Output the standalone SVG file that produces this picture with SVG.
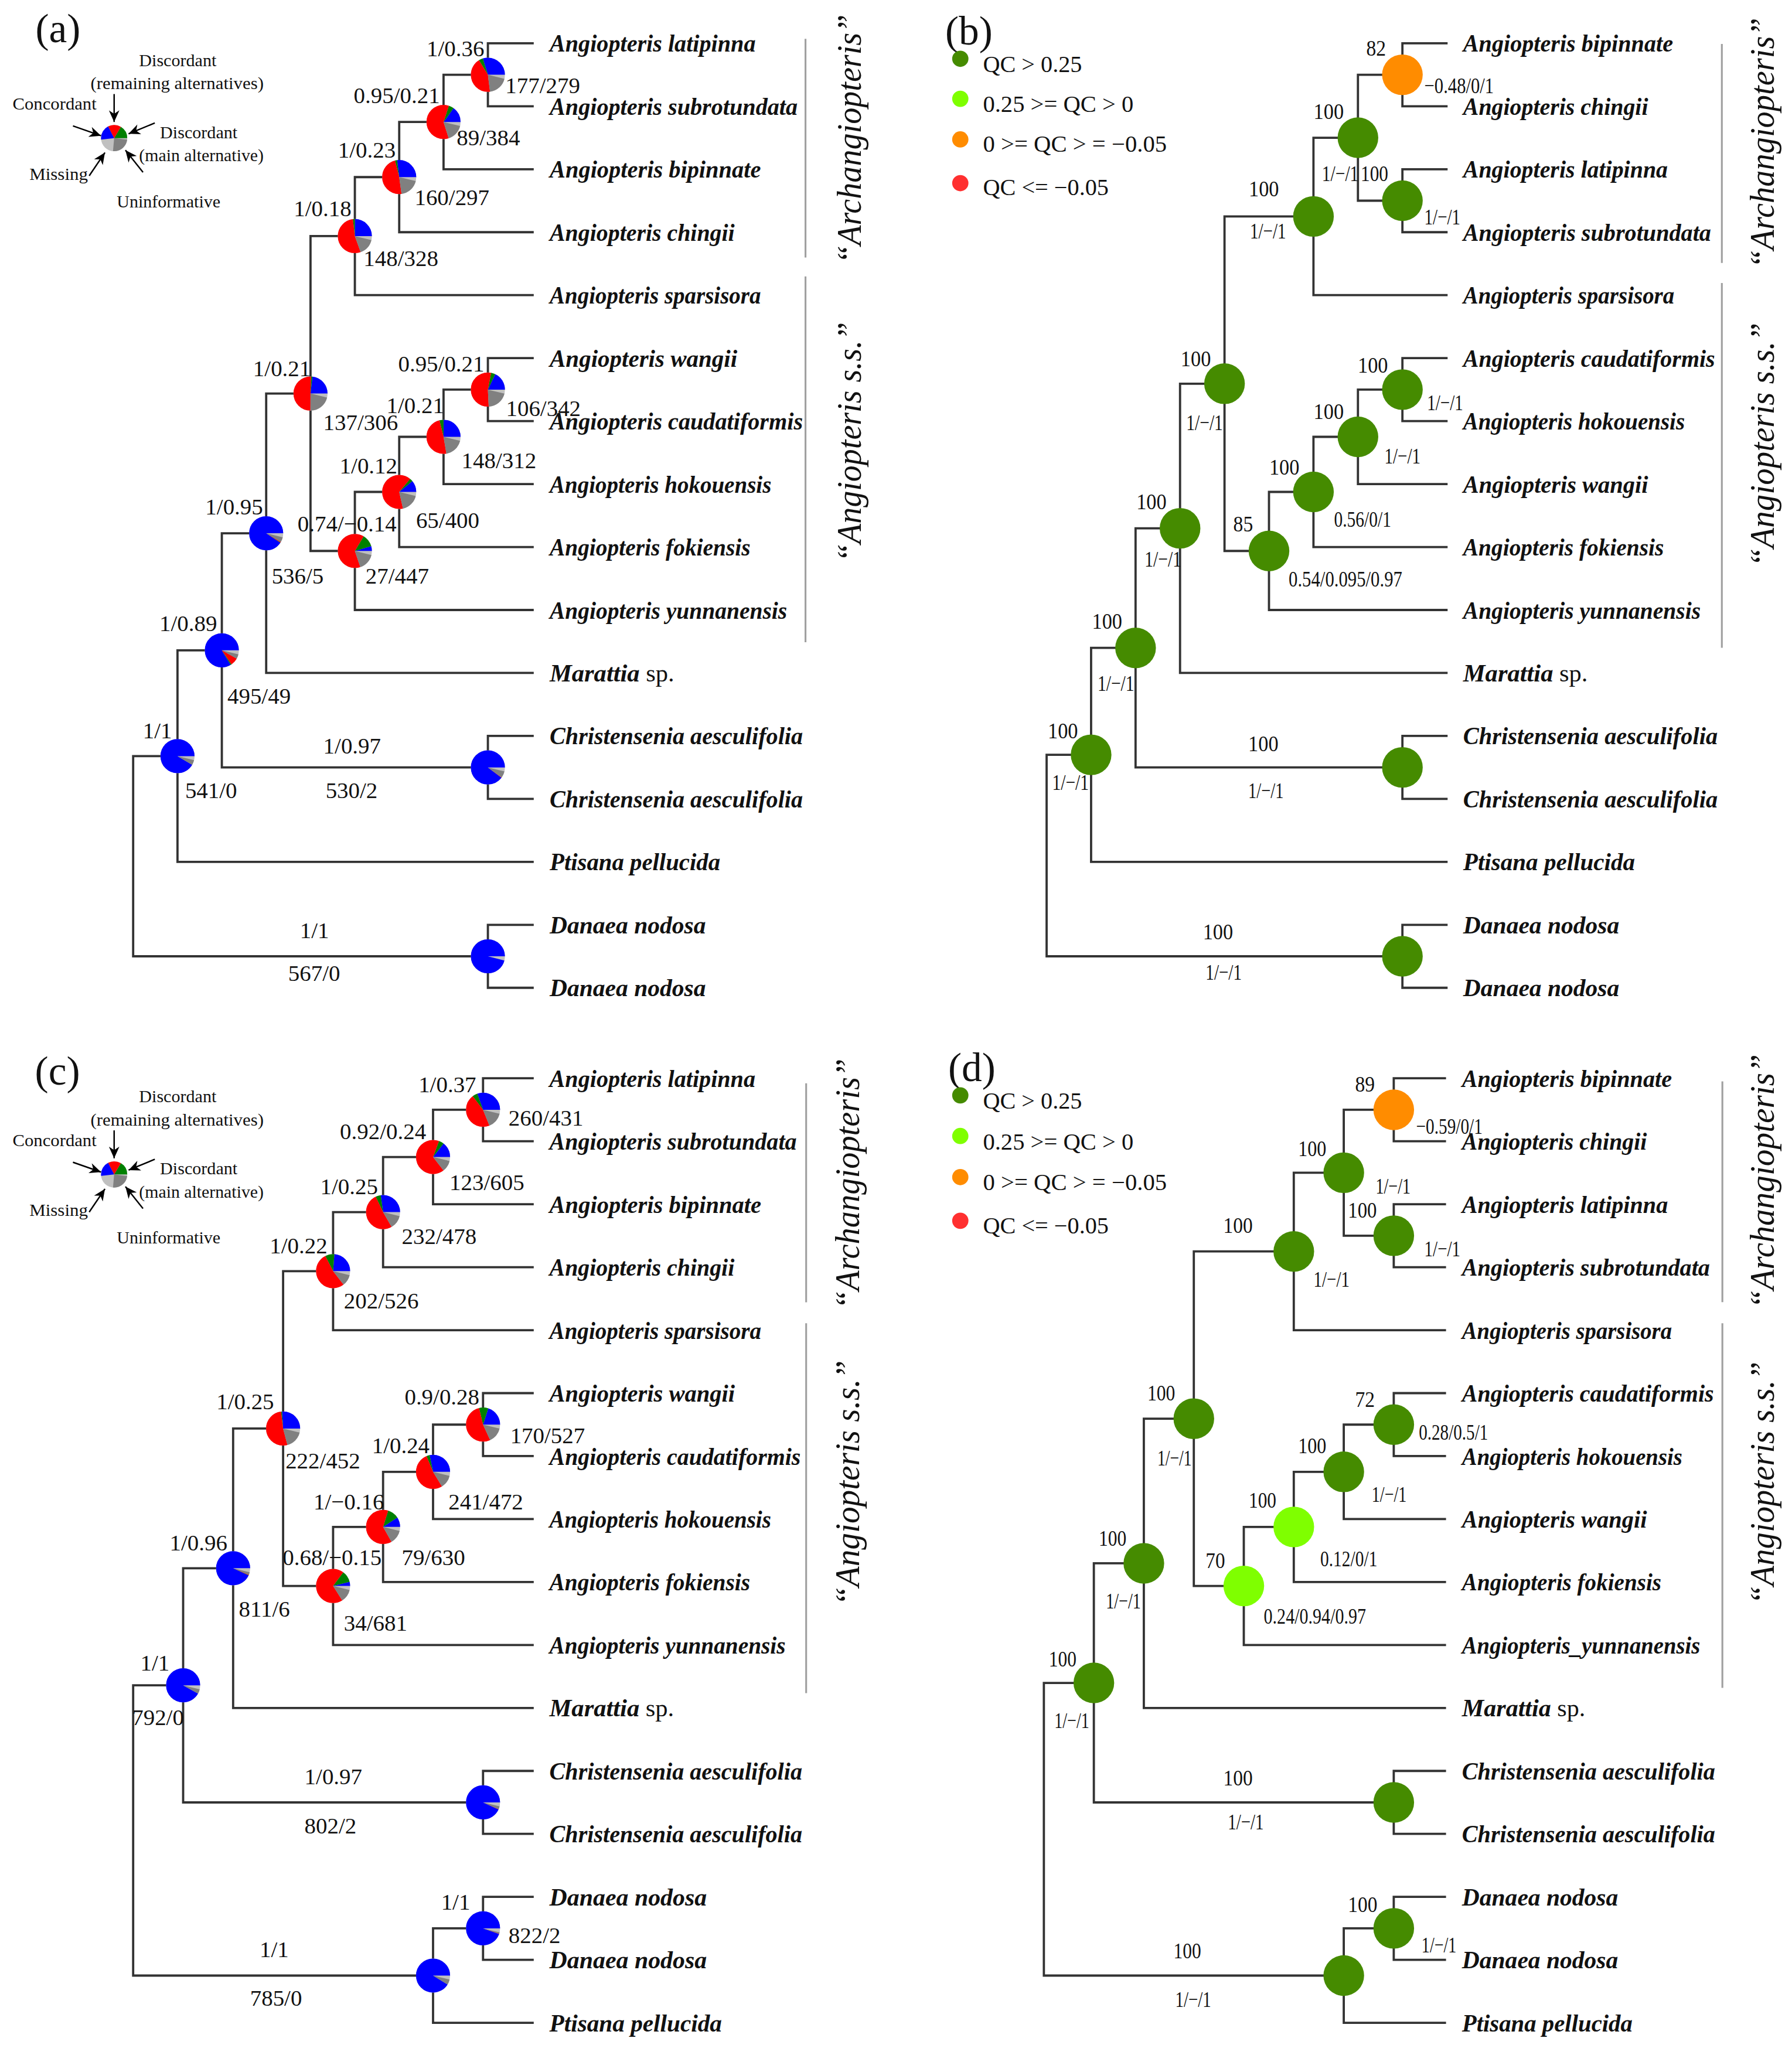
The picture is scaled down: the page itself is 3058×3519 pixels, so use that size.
<svg xmlns="http://www.w3.org/2000/svg" width="3058" height="3519" viewBox="0 0 3058 3519">
<defs>
<style>
text{font-family:"Liberation Serif","Times New Roman",serif;fill:#111}
.t{font-size:19px;font-weight:bold;font-style:italic}
.t .r{font-weight:normal;font-style:normal}
.n{font-size:17.4px}
.q{font-size:17px}
.L{font-size:13.5px}
.Q{font-size:17.5px}
.P{font-size:31px}
.C{font-size:26px;font-style:italic}
.br{fill:none;stroke:#333;stroke-width:1.7;stroke-linecap:square}
.bar{stroke:#a0a0a0;stroke-width:1.4}
.ar{stroke:#000;stroke-width:1.1;marker-end:url(#ah)}
.pb,.pg,.pr,.pu{fill:none}
.pb{stroke:#0000ff}.pg{stroke:#008000}.pr{stroke:#ff0000}.pu{stroke:#808080}
.pm{fill:#c0c0c0}
.qg{fill:#458b00}.ql{fill:#7fff00}.qo{fill:#ff8c00}.qr{fill:#ff3030}
</style>
<marker id="ah" viewBox="0 0 10 9" refX="10" refY="4.5" markerWidth="9" markerHeight="8" markerUnits="userSpaceOnUse" orient="auto"><path d="M0 0L10 4.5L0 9L3 4.5z" fill="#000"/></marker>
</defs>
<rect width="3058" height="3519" fill="#fff"/>
<g transform="scale(2.2387)">

<!-- ================= PANEL A ================= -->
<g id="panel-a">
<text class="P" x="27" y="32.3">(a)</text>
<g id="a-legend">
<text class="L" x="135.5" y="50.3" text-anchor="middle" textLength="59" lengthAdjust="spacingAndGlyphs">Discordant</text>
<text class="L" x="69" y="68" textLength="132" lengthAdjust="spacingAndGlyphs">(remaining alternatives)</text>
<text class="L" x="9.6" y="83.5" textLength="64" lengthAdjust="spacingAndGlyphs">Concordant</text>
<text class="L" x="122" y="105.3" textLength="59" lengthAdjust="spacingAndGlyphs">Discordant</text>
<text class="L" x="106" y="123" textLength="95" lengthAdjust="spacingAndGlyphs">(main alternative)</text>
<text class="L" x="22.4" y="137" textLength="44.6" lengthAdjust="spacingAndGlyphs">Missing</text>
<text class="L" x="89" y="158" textLength="79" lengthAdjust="spacingAndGlyphs">Uninformative</text>
<g transform="translate(87 105.3) scale(1 -1)" stroke-width="10">
<circle r="10" class="pm"/>
<circle r="5" pathLength="100" class="pg" stroke-dasharray="16.7 100"/>
<circle r="5" pathLength="100" class="pr" stroke-dasharray="16.6 100" stroke-dashoffset="-16.7"/>
<circle r="5" pathLength="100" class="pb" stroke-dasharray="19.5 100" stroke-dashoffset="-33.3"/>
<circle r="5" pathLength="100" class="pu" stroke-dasharray="25 100" stroke-dashoffset="-75"/>
</g>
<line class="ar" x1="87" y1="71.7" x2="87" y2="93"/>
<line class="ar" x1="55.6" y1="96" x2="77" y2="103.5"/>
<line class="ar" x1="118" y1="93.75" x2="98" y2="102"/>
<line class="ar" x1="68" y1="134" x2="80" y2="116.3"/>
<line class="ar" x1="109" y1="131.3" x2="95.6" y2="114.5"/>
</g>

<g id="a-connectors">
<path class="br" d="M135.3 576.4H101.5V729H371.9 M169.1 495.75H135.3V657H406 M202.9 406.5H169.1V585H371.9 M236.7 300H202.9V513H406 M270.5 180H236.7V420H270.5 M304.3 135H270.5V225H406 M338.1 93H304.3V177H406 M371.9 57H338.1V129H406 M406 33H371.9V81H406 M304.3 375H270.5V465H406 M338.1 333H304.3V417H406 M371.9 297H338.1V369H406 M406 273H371.9V321H406 M406 561H371.9V609H406 M406 705H371.9V753H406"/>
</g>

<g id="a-n1"><g transform="translate(371.9 57) scale(1 -1)" stroke-width="13"><circle r="13" class="pm"/><circle r="6.5" pathLength="100" class="pb" stroke-dasharray="30.5 100"/><circle r="6.5" pathLength="100" class="pg" stroke-dasharray="4 100" stroke-dashoffset="-30.5"/><circle r="6.5" pathLength="100" class="pr" stroke-dasharray="44.1 100" stroke-dashoffset="-34.5"/><circle r="6.5" pathLength="100" class="pu" stroke-dasharray="19.4 100" stroke-dashoffset="-78.6"/></g>
<text class="n" x="325.2" y="43">1/0.36</text><text class="n" x="385.2" y="71">177/279</text></g>
<g id="a-n2"><g transform="translate(338.1 93) scale(1 -1)" stroke-width="13"><circle r="13" class="pm"/><circle r="6.5" pathLength="100" class="pb" stroke-dasharray="15.3 100"/><circle r="6.5" pathLength="100" class="pg" stroke-dasharray="5 100" stroke-dashoffset="-15.3"/><circle r="6.5" pathLength="100" class="pr" stroke-dasharray="61.2 100" stroke-dashoffset="-20.3"/><circle r="6.5" pathLength="100" class="pu" stroke-dasharray="16.5 100" stroke-dashoffset="-81.5"/></g>
<text class="n" x="269.6" y="78.7">0.95/0.21</text><text class="n" x="348.1" y="110.8">89/384</text></g>
<g id="a-n3"><g transform="translate(304.3 135) scale(1 -1)" stroke-width="13"><circle r="13" class="pm"/><circle r="6.5" pathLength="100" class="pb" stroke-dasharray="27.6 100"/><circle r="6.5" pathLength="100" class="pg" stroke-dasharray="2 100" stroke-dashoffset="-27.6"/><circle r="6.5" pathLength="100" class="pr" stroke-dasharray="49.2 100" stroke-dashoffset="-29.6"/><circle r="6.5" pathLength="100" class="pu" stroke-dasharray="19.2 100" stroke-dashoffset="-78.8"/></g>
<text class="n" x="257.6" y="120">1/0.23</text><text class="n" x="316" y="156.5">160/297</text></g>
<g id="a-n4"><g transform="translate(270.5 180) scale(1 -1)" stroke-width="13"><circle r="13" class="pm"/><circle r="6.5" pathLength="100" class="pb" stroke-dasharray="25.5 100"/><circle r="6.5" pathLength="100" class="pg" stroke-dasharray="2 100" stroke-dashoffset="-25.5"/><circle r="6.5" pathLength="100" class="pr" stroke-dasharray="54.6 100" stroke-dashoffset="-27.5"/><circle r="6.5" pathLength="100" class="pu" stroke-dasharray="15.9 100" stroke-dashoffset="-82.1"/></g>
<text class="n" x="223.9" y="165">1/0.18</text><text class="n" x="277.1" y="203">148/328</text></g>
<g id="a-n5"><g transform="translate(371.9 297) scale(1 -1)" stroke-width="13"><circle r="13" class="pm"/><circle r="6.5" pathLength="100" class="pb" stroke-dasharray="18.3 100"/><circle r="6.5" pathLength="100" class="pg" stroke-dasharray="4 100" stroke-dashoffset="-18.3"/><circle r="6.5" pathLength="100" class="pr" stroke-dasharray="55 100" stroke-dashoffset="-22.3"/><circle r="6.5" pathLength="100" class="pu" stroke-dasharray="20.7 100" stroke-dashoffset="-77.3"/></g>
<text class="n" x="303.5" y="283.2">0.95/0.21</text><text class="n" x="385.7" y="317">106/342</text></g>
<g id="a-n6"><g transform="translate(338.1 333) scale(1 -1)" stroke-width="13"><circle r="13" class="pm"/><circle r="6.5" pathLength="100" class="pb" stroke-dasharray="25.5 100"/><circle r="6.5" pathLength="100" class="pg" stroke-dasharray="4 100" stroke-dashoffset="-25.5"/><circle r="6.5" pathLength="100" class="pr" stroke-dasharray="49.8 100" stroke-dashoffset="-29.5"/><circle r="6.5" pathLength="100" class="pu" stroke-dasharray="18.7 100" stroke-dashoffset="-79.3"/></g>
<text class="n" x="294.6" y="315">1/0.21</text><text class="n" x="351.8" y="356.7">148/312</text></g>
<g id="a-n7"><g transform="translate(304.3 375) scale(1 -1)" stroke-width="13"><circle r="13" class="pm"/><circle r="6.5" pathLength="100" class="pb" stroke-dasharray="11.2 100"/><circle r="6.5" pathLength="100" class="pg" stroke-dasharray="3 100" stroke-dashoffset="-11.2"/><circle r="6.5" pathLength="100" class="pr" stroke-dasharray="66 100" stroke-dashoffset="-14.2"/><circle r="6.5" pathLength="100" class="pu" stroke-dasharray="17.8 100" stroke-dashoffset="-80.2"/></g>
<text class="n" x="258.9" y="361">1/0.12</text><text class="n" x="317.1" y="402.5">65/400</text></g>
<g id="a-n8"><g transform="translate(270.5 420) scale(1 -1)" stroke-width="13"><circle r="13" class="pm"/><circle r="6.5" pathLength="100" class="pb" stroke-dasharray="4.7 100"/><circle r="6.5" pathLength="100" class="pg" stroke-dasharray="12 100" stroke-dashoffset="-4.7"/><circle r="6.5" pathLength="100" class="pr" stroke-dasharray="65.1 100" stroke-dashoffset="-16.7"/><circle r="6.5" pathLength="100" class="pu" stroke-dasharray="16.2 100" stroke-dashoffset="-81.8"/></g>
<text class="n" x="226.8" y="405">0.74/−0.14</text><text class="n" x="278.6" y="444.9">27/447</text></g>
<g id="a-n9"><g transform="translate(236.7 300) scale(1 -1)" stroke-width="13"><circle r="13" class="pm"/><circle r="6.5" pathLength="100" class="pb" stroke-dasharray="23.6 100"/><circle r="6.5" pathLength="100" class="pg" stroke-dasharray="1.5 100" stroke-dashoffset="-23.6"/><circle r="6.5" pathLength="100" class="pr" stroke-dasharray="51.3 100" stroke-dashoffset="-25.1"/><circle r="6.5" pathLength="100" class="pu" stroke-dasharray="21.6 100" stroke-dashoffset="-76.4"/></g>
<text class="n" x="192.9" y="286.6">1/0.21</text><text class="n" x="246.4" y="328">137/306</text></g>
<g id="a-n10"><g transform="translate(202.9 406.5) scale(1 -1)" stroke-width="13"><circle r="13" class="pm"/><circle r="6.5" pathLength="100" class="pb" stroke-dasharray="92.4 100"/><circle r="6.5" pathLength="100" class="pg" stroke-dasharray="0.3 100" stroke-dashoffset="-92.4"/><circle r="6.5" pathLength="100" class="pr" stroke-dasharray="0.6 100" stroke-dashoffset="-92.7"/><circle r="6.5" pathLength="100" class="pu" stroke-dasharray="4.7 100" stroke-dashoffset="-93.3"/></g>
<text class="n" x="156.5" y="392.3">1/0.95</text><text class="n" x="207.1" y="444.9">536/5</text></g>
<g id="a-n11"><g transform="translate(169.1 495.75) scale(1 -1)" stroke-width="13"><circle r="13" class="pm"/><circle r="6.5" pathLength="100" class="pb" stroke-dasharray="85.3 100"/><circle r="6.5" pathLength="100" class="pg" stroke-dasharray="1 100" stroke-dashoffset="-85.3"/><circle r="6.5" pathLength="100" class="pr" stroke-dasharray="7.4 100" stroke-dashoffset="-86.3"/><circle r="6.5" pathLength="100" class="pu" stroke-dasharray="4.3 100" stroke-dashoffset="-93.7"/></g>
<text class="n" x="121.5" y="481">1/0.89</text><text class="n" x="173.3" y="536.6">495/49</text></g>
<g id="a-n12"><g transform="translate(135.3 576.4) scale(1 -1)" stroke-width="13"><circle r="13" class="pm"/><circle r="6.5" pathLength="100" class="pb" stroke-dasharray="93.3 100"/><circle r="6.5" pathLength="100" class="pu" stroke-dasharray="4.7 100" stroke-dashoffset="-93.3"/></g>
<text class="n" x="108.9" y="562.8">1/1</text><text class="n" x="141.1" y="608.6">541/0</text></g>
<g id="a-n13"><g transform="translate(371.9 585) scale(1 -1)" stroke-width="13"><circle r="13" class="pm"/><circle r="6.5" pathLength="100" class="pb" stroke-dasharray="91.4 100"/><circle r="6.5" pathLength="100" class="pr" stroke-dasharray="0.3 100" stroke-dashoffset="-91.4"/><circle r="6.5" pathLength="100" class="pu" stroke-dasharray="6.3 100" stroke-dashoffset="-91.7"/></g>
<text class="n" x="246.4" y="574.3">1/0.97</text><text class="n" x="248.2" y="608.6">530/2</text></g>
<g id="a-n14"><g transform="translate(371.9 729) scale(1 -1)" stroke-width="13"><circle r="13" class="pm"/><circle r="6.5" pathLength="100" class="pb" stroke-dasharray="97.8 100"/></g>
<text class="n" x="228.6" y="715">1/1</text><text class="n" x="219.7" y="747.7">567/0</text></g>

<g id="a-tips">
<text id="a-t1" class="t" x="419" y="39.5" textLength="157" lengthAdjust="spacingAndGlyphs">Angiopteris latipinna</text>
<text id="a-t2" class="t" x="419" y="87.5" textLength="189" lengthAdjust="spacingAndGlyphs">Angiopteris subrotundata</text>
<text id="a-t3" class="t" x="419" y="135.5" textLength="161" lengthAdjust="spacingAndGlyphs">Angiopteris bipinnate</text>
<text id="a-t4" class="t" x="419" y="183.5" textLength="141" lengthAdjust="spacingAndGlyphs">Angiopteris chingii</text>
<text id="a-t5" class="t" x="419" y="231.5" textLength="161" lengthAdjust="spacingAndGlyphs">Angiopteris sparsisora</text>
<text id="a-t6" class="t" x="419" y="279.5" textLength="143" lengthAdjust="spacingAndGlyphs">Angiopteris wangii</text>
<text id="a-t7" class="t" x="419" y="327.5" textLength="193" lengthAdjust="spacingAndGlyphs">Angiopteris caudatiformis</text>
<text id="a-t8" class="t" x="419" y="375.5" textLength="169" lengthAdjust="spacingAndGlyphs">Angiopteris hokouensis</text>
<text id="a-t9" class="t" x="419" y="423.5" textLength="153" lengthAdjust="spacingAndGlyphs">Angiopteris fokiensis</text>
<text id="a-t10" class="t" x="419" y="471.5" textLength="181" lengthAdjust="spacingAndGlyphs">Angiopteris yunnanensis</text>
<text id="a-t11" class="t" x="419" y="519.5" textLength="95" lengthAdjust="spacingAndGlyphs">Marattia<tspan class="r"> sp.</tspan></text>
<text id="a-t12" class="t" x="419" y="567.5" textLength="193" lengthAdjust="spacingAndGlyphs">Christensenia aesculifolia</text>
<text id="a-t13" class="t" x="419" y="615.5" textLength="193" lengthAdjust="spacingAndGlyphs">Christensenia aesculifolia</text>
<text id="a-t14" class="t" x="419" y="663.5" textLength="130" lengthAdjust="spacingAndGlyphs">Ptisana pellucida</text>
<text id="a-t15" class="t" x="419" y="711.5" textLength="119" lengthAdjust="spacingAndGlyphs">Danaea nodosa</text>
<text id="a-t16" class="t" x="419" y="759.5" textLength="119" lengthAdjust="spacingAndGlyphs">Danaea nodosa</text>
</g>
<g id="a-clades">
<line class="bar" x1="614" y1="29.6" x2="614" y2="196.3"/>
<line class="bar" x1="614" y1="210.7" x2="614" y2="489.6"/>
<text class="C" x="656" y="106" text-anchor="middle" transform="rotate(-90 656 106)" textLength="190" lengthAdjust="spacingAndGlyphs">“Archangiopteris”</text>
<text class="C" x="656" y="337" text-anchor="middle" transform="rotate(-90 656 337)" textLength="183" lengthAdjust="spacingAndGlyphs">“Angiopteris s.s.”</text>
</g>
</g>

<!-- ================= PANEL B ================= -->
<g id="panel-b">
<text class="P" x="720.5" y="33.8">(b)</text>
<g id="b-legend">
<circle class="qg" cx="732" cy="44.8" r="6.2"/>
<circle class="ql" cx="732" cy="75.3" r="6.2"/>
<circle class="qo" cx="732" cy="106.3" r="6.2"/>
<circle class="qr" cx="732" cy="139.6" r="6.2"/>
<text class="Q" x="749.3" y="55" textLength="75.5" lengthAdjust="spacingAndGlyphs">QC &gt; 0.25</text>
<text class="Q" x="749.3" y="85.4" textLength="114.7" lengthAdjust="spacingAndGlyphs">0.25 &gt;= QC &gt; 0</text>
<text class="Q" x="749.3" y="115.9" textLength="140.1" lengthAdjust="spacingAndGlyphs">0 &gt;= QC &gt; = −0.05</text>
<text class="Q" x="749.3" y="148.9" textLength="95.8" lengthAdjust="spacingAndGlyphs">QC &lt;= −0.05</text>
</g>
<g id="b-connectors">
<path class="br" d="M831.7 575.4H797.8V729H1069 M865.6 493.9H831.7V657H1102.6 M899.5 402.75H865.6V585H1069 M933.4 292.5H899.5V513H1102.6 M1001.2 165H933.4V420H967.3 M1035.1 105H1001.2V225H1102.6 M1069 57H1035.1V153H1069 M1102.6 33H1069V81H1102.6 M1102.6 129H1069V177H1102.6 M1001.2 375H967.3V465H1102.6 M1035.1 333H1001.2V417H1102.6 M1069 297H1035.1V369H1102.6 M1102.6 273H1069V321H1102.6 M1102.6 561H1069V609H1102.6 M1102.6 705H1069V753H1102.6"/>
</g>
<g id="b-n1"><circle class="qo" cx="1069" cy="57" r="15.5"/><text class="q" x="1041.4" y="42.3" textLength="15" lengthAdjust="spacingAndGlyphs">82</text><text class="q" x="1085.7" y="71" textLength="53" lengthAdjust="spacingAndGlyphs">−0.48/0/1</text></g>
<g id="b-n2"><circle class="qg" cx="1035.1" cy="105" r="15.5"/><text class="q" x="1001.3" y="90.5" textLength="23" lengthAdjust="spacingAndGlyphs">100</text><text class="q" x="1007.6" y="137.9" textLength="28" lengthAdjust="spacingAndGlyphs">1/−/1</text></g>
<g id="b-n3"><circle class="qg" cx="1069" cy="153" r="15.5"/><text class="q" x="1037.2" y="137.9" textLength="21" lengthAdjust="spacingAndGlyphs">100</text><text class="q" x="1085.7" y="170.9" textLength="27.5" lengthAdjust="spacingAndGlyphs">1/−/1</text></g>
<g id="b-n4"><circle class="qg" cx="1001.2" cy="165" r="15.5"/><text class="q" x="951.9" y="149.7" textLength="23" lengthAdjust="spacingAndGlyphs">100</text><text class="q" x="952.8" y="181.9" textLength="27.5" lengthAdjust="spacingAndGlyphs">1/−/1</text></g>
<g id="b-n5"><circle class="qg" cx="1069" cy="297" r="15.5"/><text class="q" x="1035" y="284" textLength="23" lengthAdjust="spacingAndGlyphs">100</text><text class="q" x="1087.8" y="312.7" textLength="27.5" lengthAdjust="spacingAndGlyphs">1/−/1</text></g>
<g id="b-n6"><circle class="qg" cx="1035.1" cy="333" r="15.5"/><text class="q" x="1001.3" y="319.5" textLength="23" lengthAdjust="spacingAndGlyphs">100</text><text class="q" x="1055.3" y="353.4" textLength="27.5" lengthAdjust="spacingAndGlyphs">1/−/1</text></g>
<g id="b-n7"><circle class="qg" cx="1001.2" cy="375" r="15.5"/><text class="q" x="967.5" y="361.8" textLength="23" lengthAdjust="spacingAndGlyphs">100</text><text class="q" x="1016.9" y="401.6" textLength="43.5" lengthAdjust="spacingAndGlyphs">0.56/0/1</text></g>
<g id="b-n8"><circle class="qg" cx="967.3" cy="420" r="15.5"/><text class="q" x="940.1" y="405" textLength="15" lengthAdjust="spacingAndGlyphs">85</text><text class="q" x="982.3" y="447.2" textLength="86.6" lengthAdjust="spacingAndGlyphs">0.54/0.095/0.97</text></g>
<g id="b-n9"><circle class="qg" cx="933.4" cy="292.5" r="15.5"/><text class="q" x="900" y="279" textLength="23" lengthAdjust="spacingAndGlyphs">100</text><text class="q" x="904.2" y="328" textLength="28" lengthAdjust="spacingAndGlyphs">1/−/1</text></g>
<g id="b-n10"><circle class="qg" cx="899.5" cy="402.75" r="15.5"/><text class="q" x="866.2" y="388" textLength="23" lengthAdjust="spacingAndGlyphs">100</text><text class="q" x="872.5" y="432" textLength="28" lengthAdjust="spacingAndGlyphs">1/−/1</text></g>
<g id="b-n11"><circle class="qg" cx="865.6" cy="493.9" r="15.5"/><text class="q" x="832.4" y="479.4" textLength="23" lengthAdjust="spacingAndGlyphs">100</text><text class="q" x="836.6" y="526.8" textLength="28" lengthAdjust="spacingAndGlyphs">1/−/1</text></g>
<g id="b-n12"><circle class="qg" cx="831.7" cy="575.4" r="15.5"/><text class="q" x="798.7" y="562.8" textLength="23" lengthAdjust="spacingAndGlyphs">100</text><text class="q" x="802" y="602" textLength="28" lengthAdjust="spacingAndGlyphs">1/−/1</text></g>
<g id="b-n13"><circle class="qg" cx="1069" cy="585" r="15.5"/><text class="q" x="951.5" y="572.6" textLength="23" lengthAdjust="spacingAndGlyphs">100</text><text class="q" x="951.5" y="608.6" textLength="27" lengthAdjust="spacingAndGlyphs">1/−/1</text></g>
<g id="b-n14"><circle class="qg" cx="1069" cy="729" r="15.5"/><text class="q" x="916.9" y="715.9" textLength="23" lengthAdjust="spacingAndGlyphs">100</text><text class="q" x="919" y="746.8" textLength="27.5" lengthAdjust="spacingAndGlyphs">1/−/1</text></g>
<g id="b-tips">
<text id="b-t1" class="t" x="1115.3" y="39.5" textLength="160" lengthAdjust="spacingAndGlyphs">Angiopteris bipinnate</text>
<text id="b-t2" class="t" x="1115.3" y="87.5" textLength="141" lengthAdjust="spacingAndGlyphs">Angiopteris chingii</text>
<text id="b-t3" class="t" x="1115.3" y="135.5" textLength="156" lengthAdjust="spacingAndGlyphs">Angiopteris latipinna</text>
<text id="b-t4" class="t" x="1115.3" y="183.5" textLength="189" lengthAdjust="spacingAndGlyphs">Angiopteris subrotundata</text>
<text id="b-t5" class="t" x="1115.3" y="231.5" textLength="161" lengthAdjust="spacingAndGlyphs">Angiopteris sparsisora</text>
<text id="b-t6" class="t" x="1115.3" y="279.5" textLength="192" lengthAdjust="spacingAndGlyphs">Angiopteris caudatiformis</text>
<text id="b-t7" class="t" x="1115.3" y="327.5" textLength="169" lengthAdjust="spacingAndGlyphs">Angiopteris hokouensis</text>
<text id="b-t8" class="t" x="1115.3" y="375.5" textLength="141" lengthAdjust="spacingAndGlyphs">Angiopteris wangii</text>
<text id="b-t9" class="t" x="1115.3" y="423.5" textLength="153" lengthAdjust="spacingAndGlyphs">Angiopteris fokiensis</text>
<text id="b-t10" class="t" x="1115.3" y="471.5" textLength="181" lengthAdjust="spacingAndGlyphs">Angiopteris yunnanensis</text>
<text id="b-t11" class="t" x="1115.3" y="519.5" textLength="95" lengthAdjust="spacingAndGlyphs">Marattia<tspan class="r"> sp.</tspan></text>
<text id="b-t12" class="t" x="1115.3" y="567.5" textLength="194" lengthAdjust="spacingAndGlyphs">Christensenia aesculifolia</text>
<text id="b-t13" class="t" x="1115.3" y="615.5" textLength="194" lengthAdjust="spacingAndGlyphs">Christensenia aesculifolia</text>
<text id="b-t14" class="t" x="1115.3" y="663.5" textLength="131" lengthAdjust="spacingAndGlyphs">Ptisana pellucida</text>
<text id="b-t15" class="t" x="1115.3" y="711.5" textLength="119" lengthAdjust="spacingAndGlyphs">Danaea nodosa</text>
<text id="b-t16" class="t" x="1115.3" y="759.5" textLength="119" lengthAdjust="spacingAndGlyphs">Danaea nodosa</text>
</g>
<g id="b-clades">
<line class="bar" x1="1312.5" y1="33.5" x2="1312.5" y2="200.5"/>
<line class="bar" x1="1312.5" y1="215.7" x2="1312.5" y2="493.8"/>
<text class="C" x="1352" y="109" text-anchor="middle" transform="rotate(-90 1352 109)" textLength="191" lengthAdjust="spacingAndGlyphs">“Archangiopteris”</text>
<text class="C" x="1352" y="339" text-anchor="middle" transform="rotate(-90 1352 339)" textLength="186" lengthAdjust="spacingAndGlyphs">“Angiopteris s.s.”</text>
</g>
</g>

<!-- ================= PANEL C ================= -->
<g id="panel-c">
<text class="P" x="26.6" y="827">(c)</text>
<g id="c-legend">
<text class="L" x="135.5" y="840.3" text-anchor="middle" textLength="59" lengthAdjust="spacingAndGlyphs">Discordant</text>
<text class="L" x="69" y="858" textLength="132" lengthAdjust="spacingAndGlyphs">(remaining alternatives)</text>
<text class="L" x="9.6" y="873.5" textLength="64" lengthAdjust="spacingAndGlyphs">Concordant</text>
<text class="L" x="122" y="895.3" textLength="59" lengthAdjust="spacingAndGlyphs">Discordant</text>
<text class="L" x="106" y="913" textLength="95" lengthAdjust="spacingAndGlyphs">(main alternative)</text>
<text class="L" x="22.4" y="927" textLength="44.6" lengthAdjust="spacingAndGlyphs">Missing</text>
<text class="L" x="89" y="948" textLength="79" lengthAdjust="spacingAndGlyphs">Uninformative</text>
<g transform="translate(87 895.3) scale(1 -1)" stroke-width="10">
<circle r="10" class="pm"/>
<circle r="5" pathLength="100" class="pg" stroke-dasharray="16.7 100"/>
<circle r="5" pathLength="100" class="pr" stroke-dasharray="16.6 100" stroke-dashoffset="-16.7"/>
<circle r="5" pathLength="100" class="pb" stroke-dasharray="19.5 100" stroke-dashoffset="-33.3"/>
<circle r="5" pathLength="100" class="pu" stroke-dasharray="25 100" stroke-dashoffset="-75"/>
</g>
<line class="ar" x1="87" y1="861.7" x2="87" y2="883"/>
<line class="ar" x1="55.6" y1="886" x2="77" y2="893.5"/>
<line class="ar" x1="118" y1="883.75" x2="98" y2="892"/>
<line class="ar" x1="68" y1="924" x2="80" y2="906.3"/>
<line class="ar" x1="109" y1="921.3" x2="95.6" y2="904.5"/>
</g>
<g id="c-connectors">
<path class="br" d="M139.6 1284.75H101.5V1506H330.1 M177.7 1195.5H139.6V1374H368.2 M215.8 1089H177.7V1302H406 M253.9 969H215.8V1209H253.9 M292 924H253.9V1014H406 M330.1 882H292V966H406 M368.2 846H330.1V918H406 M406 822H368.2V870H406 M292 1164H253.9V1254H406 M330.1 1122H292V1206H406 M368.2 1086H330.1V1158H406 M406 1062H368.2V1110H406 M406 1350H368.2V1398H406 M368.2 1470H330.1V1542H406 M406 1446H368.2V1494H406"/>
</g>
<g id="c-n1"><g transform="translate(368.2 846) scale(1 -1)" stroke-width="13"><circle r="13" class="pm"/><circle r="6.5" pathLength="100" class="pb" stroke-dasharray="31.1 100"/><circle r="6.5" pathLength="100" class="pg" stroke-dasharray="5 100" stroke-dashoffset="-31.1"/><circle r="6.5" pathLength="100" class="pr" stroke-dasharray="46.6 100" stroke-dashoffset="-36.1"/><circle r="6.5" pathLength="100" class="pu" stroke-dasharray="15.3 100" stroke-dashoffset="-82.7"/></g>
<text class="n" x="319" y="832.5">1/0.37</text><text class="n" x="387.6" y="857.9">260/431</text></g>
<g id="c-n2"><g transform="translate(330.1 882) scale(1 -1)" stroke-width="13"><circle r="13" class="pm"/><circle r="6.5" pathLength="100" class="pb" stroke-dasharray="14.7 100"/><circle r="6.5" pathLength="100" class="pg" stroke-dasharray="5 100" stroke-dashoffset="-14.7"/><circle r="6.5" pathLength="100" class="pr" stroke-dasharray="67.5 100" stroke-dashoffset="-19.7"/><circle r="6.5" pathLength="100" class="pu" stroke-dasharray="10.8 100" stroke-dashoffset="-87.2"/></g>
<text class="n" x="259.1" y="868.2">0.92/0.24</text><text class="n" x="342.6" y="907.1">123/605</text></g>
<g id="c-n3"><g transform="translate(292 924) scale(1 -1)" stroke-width="13"><circle r="13" class="pm"/><circle r="6.5" pathLength="100" class="pb" stroke-dasharray="27.8 100"/><circle r="6.5" pathLength="100" class="pg" stroke-dasharray="5 100" stroke-dashoffset="-27.8"/><circle r="6.5" pathLength="100" class="pr" stroke-dasharray="52.2 100" stroke-dashoffset="-32.8"/><circle r="6.5" pathLength="100" class="pu" stroke-dasharray="13 100" stroke-dashoffset="-85"/></g>
<text class="n" x="244.1" y="910.3">1/0.25</text><text class="n" x="306.2" y="948.4">232/478</text></g>
<g id="c-n4"><g transform="translate(253.9 969) scale(1 -1)" stroke-width="13"><circle r="13" class="pm"/><circle r="6.5" pathLength="100" class="pb" stroke-dasharray="24.2 100"/><circle r="6.5" pathLength="100" class="pg" stroke-dasharray="9 100" stroke-dashoffset="-24.2"/><circle r="6.5" pathLength="100" class="pr" stroke-dasharray="54 100" stroke-dashoffset="-33.2"/><circle r="6.5" pathLength="100" class="pu" stroke-dasharray="10.8 100" stroke-dashoffset="-87.2"/></g>
<text class="n" x="205.6" y="955.5">1/0.22</text><text class="n" x="262.1" y="997.6">202/526</text></g>
<g id="c-n5"><g transform="translate(368.2 1086) scale(1 -1)" stroke-width="13"><circle r="13" class="pm"/><circle r="6.5" pathLength="100" class="pb" stroke-dasharray="20.4 100"/><circle r="6.5" pathLength="100" class="pg" stroke-dasharray="9 100" stroke-dashoffset="-20.4"/><circle r="6.5" pathLength="100" class="pr" stroke-dasharray="54.1 100" stroke-dashoffset="-29.4"/><circle r="6.5" pathLength="100" class="pu" stroke-dasharray="14.5 100" stroke-dashoffset="-83.5"/></g>
<text class="n" x="308.4" y="1070.7">0.9/0.28</text><text class="n" x="388.9" y="1100.4">170/527</text></g>
<g id="c-n6"><g transform="translate(330.1 1122) scale(1 -1)" stroke-width="13"><circle r="13" class="pm"/><circle r="6.5" pathLength="100" class="pb" stroke-dasharray="28.9 100"/><circle r="6.5" pathLength="100" class="pg" stroke-dasharray="3 100" stroke-dashoffset="-28.9"/><circle r="6.5" pathLength="100" class="pr" stroke-dasharray="53.5 100" stroke-dashoffset="-31.9"/><circle r="6.5" pathLength="100" class="pu" stroke-dasharray="12.6 100" stroke-dashoffset="-85.4"/></g>
<text class="n" x="283.5" y="1107.6">1/0.24</text><text class="n" x="341.8" y="1150.7">241/472</text></g>
<g id="c-n7"><g transform="translate(292 1164) scale(1 -1)" stroke-width="13"><circle r="13" class="pm"/><circle r="6.5" pathLength="100" class="pb" stroke-dasharray="9.5 100"/><circle r="6.5" pathLength="100" class="pg" stroke-dasharray="11 100" stroke-dashoffset="-9.5"/><circle r="6.5" pathLength="100" class="pr" stroke-dasharray="64.4 100" stroke-dashoffset="-20.5"/><circle r="6.5" pathLength="100" class="pu" stroke-dasharray="13.1 100" stroke-dashoffset="-84.9"/></g>
<text class="n" x="239" y="1150.7">1/−0.16</text><text class="n" x="306.2" y="1192.9">79/630</text></g>
<g id="c-n8"><g transform="translate(253.9 1209) scale(1 -1)" stroke-width="13"><circle r="13" class="pm"/><circle r="6.5" pathLength="100" class="pb" stroke-dasharray="4.1 100"/><circle r="6.5" pathLength="100" class="pg" stroke-dasharray="11 100" stroke-dashoffset="-4.1"/><circle r="6.5" pathLength="100" class="pr" stroke-dasharray="70.6 100" stroke-dashoffset="-15.1"/><circle r="6.5" pathLength="100" class="pu" stroke-dasharray="12.3 100" stroke-dashoffset="-85.7"/></g>
<text class="n" x="215.4" y="1192.9">0.68/−0.15</text><text class="n" x="262.1" y="1243.2">34/681</text></g>
<g id="c-n9"><g transform="translate(215.8 1089) scale(1 -1)" stroke-width="13"><circle r="13" class="pm"/><circle r="6.5" pathLength="100" class="pb" stroke-dasharray="26.6 100"/><circle r="6.5" pathLength="100" class="pg" stroke-dasharray="1 100" stroke-dashoffset="-26.6"/><circle r="6.5" pathLength="100" class="pr" stroke-dasharray="53.1 100" stroke-dashoffset="-27.6"/><circle r="6.5" pathLength="100" class="pu" stroke-dasharray="17.3 100" stroke-dashoffset="-80.7"/></g>
<text class="n" x="164.9" y="1074.3">1/0.25</text><text class="n" x="217.6" y="1119.2">222/452</text></g>
<g id="c-n10"><g transform="translate(177.7 1195.5) scale(1 -1)" stroke-width="13"><circle r="13" class="pm"/><circle r="6.5" pathLength="100" class="pb" stroke-dasharray="95 100"/><circle r="6.5" pathLength="100" class="pg" stroke-dasharray="0.2 100" stroke-dashoffset="-95"/><circle r="6.5" pathLength="100" class="pr" stroke-dasharray="0.5 100" stroke-dashoffset="-95.2"/><circle r="6.5" pathLength="100" class="pu" stroke-dasharray="2.3 100" stroke-dashoffset="-95.7"/></g>
<text class="n" x="129.3" y="1182.1">1/0.96</text><text class="n" x="182" y="1232.4">811/6</text></g>
<g id="c-n11"><g transform="translate(139.6 1284.75) scale(1 -1)" stroke-width="13"><circle r="13" class="pm"/><circle r="6.5" pathLength="100" class="pb" stroke-dasharray="93.7 100"/><circle r="6.5" pathLength="100" class="pu" stroke-dasharray="4.3 100" stroke-dashoffset="-93.7"/></g>
<text class="n" x="107" y="1273.7">1/1</text><text class="n" x="100.6" y="1315.2">792/0</text></g>
<g id="c-n12"><g transform="translate(368.2 1374) scale(1 -1)" stroke-width="13"><circle r="13" class="pm"/><circle r="6.5" pathLength="100" class="pb" stroke-dasharray="95 100"/><circle r="6.5" pathLength="100" class="pr" stroke-dasharray="0.3 100" stroke-dashoffset="-95"/><circle r="6.5" pathLength="100" class="pu" stroke-dasharray="2.7 100" stroke-dashoffset="-95.3"/></g>
<text class="n" x="232.1" y="1360">1/0.97</text><text class="n" x="232.1" y="1397.8">802/2</text></g>
<g id="c-n13"><g transform="translate(368.2 1470) scale(1 -1)" stroke-width="13"><circle r="13" class="pm"/><circle r="6.5" pathLength="100" class="pb" stroke-dasharray="96.5 100"/><circle r="6.5" pathLength="100" class="pr" stroke-dasharray="0.3 100" stroke-dashoffset="-96.5"/><circle r="6.5" pathLength="100" class="pu" stroke-dasharray="1.2 100" stroke-dashoffset="-96.8"/></g>
<text class="n" x="336.2" y="1455.8">1/1</text><text class="n" x="387.6" y="1481.3">822/2</text></g>
<g id="c-n14"><g transform="translate(330.1 1506) scale(1 -1)" stroke-width="13"><circle r="13" class="pm"/><circle r="6.5" pathLength="100" class="pb" stroke-dasharray="93 100"/><circle r="6.5" pathLength="100" class="pu" stroke-dasharray="5 100" stroke-dashoffset="-93"/></g>
<text class="n" x="197.9" y="1491.9">1/1</text><text class="n" x="190.6" y="1528.8">785/0</text></g>
<g id="c-tips">
<text id="c-t1" class="t" x="418.8" y="828.5" textLength="157" lengthAdjust="spacingAndGlyphs">Angiopteris latipinna</text>
<text id="c-t2" class="t" x="418.8" y="876.5" textLength="188.5" lengthAdjust="spacingAndGlyphs">Angiopteris subrotundata</text>
<text id="c-t3" class="t" x="418.8" y="924.5" textLength="161.5" lengthAdjust="spacingAndGlyphs">Angiopteris bipinnate</text>
<text id="c-t4" class="t" x="418.8" y="972.5" textLength="141" lengthAdjust="spacingAndGlyphs">Angiopteris chingii</text>
<text id="c-t5" class="t" x="418.8" y="1020.5" textLength="161.5" lengthAdjust="spacingAndGlyphs">Angiopteris sparsisora</text>
<text id="c-t6" class="t" x="418.8" y="1068.5" textLength="141.4" lengthAdjust="spacingAndGlyphs">Angiopteris wangii</text>
<text id="c-t7" class="t" x="418.8" y="1116.5" textLength="191.5" lengthAdjust="spacingAndGlyphs">Angiopteris caudatiformis</text>
<text id="c-t8" class="t" x="418.8" y="1164.5" textLength="169" lengthAdjust="spacingAndGlyphs">Angiopteris hokouensis</text>
<text id="c-t9" class="t" x="418.8" y="1212.5" textLength="153" lengthAdjust="spacingAndGlyphs">Angiopteris fokiensis</text>
<text id="c-t10" class="t" x="418.8" y="1260.5" textLength="180" lengthAdjust="spacingAndGlyphs">Angiopteris yunnanensis</text>
<text id="c-t11" class="t" x="418.8" y="1308.5" textLength="95" lengthAdjust="spacingAndGlyphs">Marattia<tspan class="r"> sp.</tspan></text>
<text id="c-t12" class="t" x="418.8" y="1356.5" textLength="192.7" lengthAdjust="spacingAndGlyphs">Christensenia aesculifolia</text>
<text id="c-t13" class="t" x="418.8" y="1404.5" textLength="192.7" lengthAdjust="spacingAndGlyphs">Christensenia aesculifolia</text>
<text id="c-t14" class="t" x="418.8" y="1452.5" textLength="120" lengthAdjust="spacingAndGlyphs">Danaea nodosa</text>
<text id="c-t15" class="t" x="418.8" y="1500.5" textLength="120" lengthAdjust="spacingAndGlyphs">Danaea nodosa</text>
<text id="c-t16" class="t" x="418.8" y="1548.5" textLength="131.5" lengthAdjust="spacingAndGlyphs">Ptisana pellucida</text>
</g>
<g id="c-clades">
<line class="bar" x1="614.5" y1="825.8" x2="614.5" y2="992.8"/>
<line class="bar" x1="614.5" y1="1008.7" x2="614.5" y2="1290.7"/>
<text class="C" x="655" y="902.5" text-anchor="middle" transform="rotate(-90 655 902.5)" textLength="191" lengthAdjust="spacingAndGlyphs">“Archangiopteris”</text>
<text class="C" x="655" y="1130.5" text-anchor="middle" transform="rotate(-90 655 1130.5)" textLength="187" lengthAdjust="spacingAndGlyphs">“Angiopteris s.s.”</text>
</g>
</g>

<!-- ================= PANEL D ================= -->
<g id="panel-d">
<text class="P" x="722.7" y="824">(d)</text>
<g id="d-legend">
<circle class="qg" cx="732" cy="835" r="6.2"/>
<circle class="ql" cx="732" cy="866" r="6.2"/>
<circle class="qo" cx="732" cy="897.3" r="6.2"/>
<circle class="qr" cx="732" cy="930.6" r="6.2"/>
<text class="Q" x="749.3" y="845.3" textLength="75.5" lengthAdjust="spacingAndGlyphs">QC &gt; 0.25</text>
<text class="Q" x="749.3" y="876.2" textLength="114.7" lengthAdjust="spacingAndGlyphs">0.25 &gt;= QC &gt; 0</text>
<text class="Q" x="749.3" y="907" textLength="140.1" lengthAdjust="spacingAndGlyphs">0 &gt;= QC &gt; = −0.05</text>
<text class="Q" x="749.3" y="940.5" textLength="95.8" lengthAdjust="spacingAndGlyphs">QC &lt;= −0.05</text>
</g>
<g id="d-connectors">
<path class="br" d="M833.8 1282.9H795.7V1506H1024.3 M871.9 1191.75H833.8V1374H1062.4 M910 1081.5H871.9V1302H1101.4 M986.2 954H910V1209H948.1 M1024.3 894H986.2V1014H1101.4 M1062.4 846H1024.3V942H1062.4 M1101.4 822H1062.4V870H1101.4 M1101.4 918H1062.4V966H1101.4 M986.2 1164H948.1V1254H1101.4 M1024.3 1122H986.2V1206H1101.4 M1062.4 1086H1024.3V1158H1101.4 M1101.4 1062H1062.4V1110H1101.4 M1101.4 1350H1062.4V1398H1101.4 M1062.4 1470H1024.3V1542H1101.4 M1101.4 1446H1062.4V1494H1101.4"/>
</g>
<g id="d-n1"><circle class="qo" cx="1062.4" cy="846" r="15.5"/><text class="q" x="1033" y="832.4" textLength="15" lengthAdjust="spacingAndGlyphs">89</text><text class="q" x="1079.4" y="864.2" textLength="50.7" lengthAdjust="spacingAndGlyphs">−0.59/0/1</text></g>
<g id="d-n2"><circle class="qg" cx="1024.3" cy="894" r="15.5"/><text class="q" x="989.5" y="881.2" textLength="21.5" lengthAdjust="spacingAndGlyphs">100</text><text class="q" x="1048.6" y="910" textLength="26.6" lengthAdjust="spacingAndGlyphs">1/−/1</text></g>
<g id="d-n3"><circle class="qg" cx="1062.4" cy="942" r="15.5"/><text class="q" x="1027.5" y="928" textLength="22" lengthAdjust="spacingAndGlyphs">100</text><text class="q" x="1085.7" y="957.9" textLength="27.5" lengthAdjust="spacingAndGlyphs">1/−/1</text></g>
<g id="d-n4"><circle class="qg" cx="986.2" cy="954" r="15.5"/><text class="q" x="932.5" y="939.9" textLength="22.4" lengthAdjust="spacingAndGlyphs">100</text><text class="q" x="1001.3" y="980.8" textLength="27.4" lengthAdjust="spacingAndGlyphs">1/−/1</text></g>
<g id="d-n5"><circle class="qg" cx="1062.4" cy="1086" r="15.5"/><text class="q" x="1033" y="1072.4" textLength="15" lengthAdjust="spacingAndGlyphs">72</text><text class="q" x="1081.5" y="1097.3" textLength="52.8" lengthAdjust="spacingAndGlyphs">0.28/0.5/1</text></g>
<g id="d-n6"><circle class="qg" cx="1024.3" cy="1122" r="15.5"/><text class="q" x="989.5" y="1107.9" textLength="21.5" lengthAdjust="spacingAndGlyphs">100</text><text class="q" x="1045.6" y="1144.7" textLength="26.6" lengthAdjust="spacingAndGlyphs">1/−/1</text></g>
<g id="d-n7"><circle class="ql" cx="986.2" cy="1164" r="15.5"/><text class="q" x="951.9" y="1149.3" textLength="21" lengthAdjust="spacingAndGlyphs">100</text><text class="q" x="1006.4" y="1193.8" textLength="43.5" lengthAdjust="spacingAndGlyphs">0.12/0/1</text></g>
<g id="d-n8"><circle class="ql" cx="948.1" cy="1209" r="15.5"/><text class="q" x="919" y="1195.3" textLength="14.8" lengthAdjust="spacingAndGlyphs">70</text><text class="q" x="963.3" y="1237.6" textLength="78" lengthAdjust="spacingAndGlyphs">0.24/0.94/0.97</text></g>
<g id="d-n9"><circle class="qg" cx="910" cy="1081.5" r="15.5"/><text class="q" x="874.6" y="1067.4" textLength="21.2" lengthAdjust="spacingAndGlyphs">100</text><text class="q" x="882.2" y="1117" textLength="26.2" lengthAdjust="spacingAndGlyphs">1/−/1</text></g>
<g id="d-n10"><circle class="qg" cx="871.9" cy="1191.75" r="15.5"/><text class="q" x="837.5" y="1178.4" textLength="21.1" lengthAdjust="spacingAndGlyphs">100</text><text class="q" x="843" y="1226" textLength="26.6" lengthAdjust="spacingAndGlyphs">1/−/1</text></g>
<g id="d-n11"><circle class="qg" cx="833.8" cy="1282.9" r="15.5"/><text class="q" x="799.5" y="1270.5" textLength="21.1" lengthAdjust="spacingAndGlyphs">100</text><text class="q" x="803.7" y="1317.4" textLength="26.6" lengthAdjust="spacingAndGlyphs">1/−/1</text></g>
<g id="d-n12"><circle class="qg" cx="1062.4" cy="1374" r="15.5"/><text class="q" x="932.5" y="1361" textLength="22.4" lengthAdjust="spacingAndGlyphs">100</text><text class="q" x="935.9" y="1394.7" textLength="27.4" lengthAdjust="spacingAndGlyphs">1/−/1</text></g>
<g id="d-n13"><circle class="qg" cx="1062.4" cy="1470" r="15.5"/><text class="q" x="1027.5" y="1457.6" textLength="22.4" lengthAdjust="spacingAndGlyphs">100</text><text class="q" x="1083.6" y="1488.3" textLength="26.6" lengthAdjust="spacingAndGlyphs">1/−/1</text></g>
<g id="d-n14"><circle class="qg" cx="1024.3" cy="1506" r="15.5"/><text class="q" x="894.5" y="1492.9" textLength="21.1" lengthAdjust="spacingAndGlyphs">100</text><text class="q" x="895.8" y="1529.7" textLength="27.4" lengthAdjust="spacingAndGlyphs">1/−/1</text></g>
<g id="d-tips">
<text id="d-t1" class="t" x="1114.4" y="828.5" textLength="160" lengthAdjust="spacingAndGlyphs">Angiopteris bipinnate</text>
<text id="d-t2" class="t" x="1114.4" y="876.5" textLength="141" lengthAdjust="spacingAndGlyphs">Angiopteris chingii</text>
<text id="d-t3" class="t" x="1114.4" y="924.5" textLength="157" lengthAdjust="spacingAndGlyphs">Angiopteris latipinna</text>
<text id="d-t4" class="t" x="1114.4" y="972.5" textLength="189" lengthAdjust="spacingAndGlyphs">Angiopteris subrotundata</text>
<text id="d-t5" class="t" x="1114.4" y="1020.5" textLength="160" lengthAdjust="spacingAndGlyphs">Angiopteris sparsisora</text>
<text id="d-t6" class="t" x="1114.4" y="1068.5" textLength="192" lengthAdjust="spacingAndGlyphs">Angiopteris caudatiformis</text>
<text id="d-t7" class="t" x="1114.4" y="1116.5" textLength="168" lengthAdjust="spacingAndGlyphs">Angiopteris hokouensis</text>
<text id="d-t8" class="t" x="1114.4" y="1164.5" textLength="141" lengthAdjust="spacingAndGlyphs">Angiopteris wangii</text>
<text id="d-t9" class="t" x="1114.4" y="1212.5" textLength="152" lengthAdjust="spacingAndGlyphs">Angiopteris fokiensis</text>
<text id="d-t10" class="t" x="1114.4" y="1260.5" textLength="181.6" lengthAdjust="spacingAndGlyphs">Angiopteris_yunnanensis</text>
<text id="d-t11" class="t" x="1114.4" y="1308.5" textLength="94" lengthAdjust="spacingAndGlyphs">Marattia<tspan class="r"> sp.</tspan></text>
<text id="d-t12" class="t" x="1114.4" y="1356.5" textLength="193" lengthAdjust="spacingAndGlyphs">Christensenia aesculifolia</text>
<text id="d-t13" class="t" x="1114.4" y="1404.5" textLength="193" lengthAdjust="spacingAndGlyphs">Christensenia aesculifolia</text>
<text id="d-t14" class="t" x="1114.4" y="1452.5" textLength="119" lengthAdjust="spacingAndGlyphs">Danaea nodosa</text>
<text id="d-t15" class="t" x="1114.4" y="1500.5" textLength="119" lengthAdjust="spacingAndGlyphs">Danaea nodosa</text>
<text id="d-t16" class="t" x="1114.4" y="1548.5" textLength="130" lengthAdjust="spacingAndGlyphs">Ptisana pellucida</text>
</g>
<g id="d-clades">
<line class="bar" x1="1312.9" y1="824.4" x2="1312.9" y2="992.7"/>
<line class="bar" x1="1312.9" y1="1008.7" x2="1312.9" y2="1286.7"/>
<text class="C" x="1352" y="900.6" text-anchor="middle" transform="rotate(-90 1352 900.6)" textLength="194" lengthAdjust="spacingAndGlyphs">“Archangiopteris”</text>
<text class="C" x="1352" y="1130.5" text-anchor="middle" transform="rotate(-90 1352 1130.5)" textLength="185" lengthAdjust="spacingAndGlyphs">“Angiopteris s.s.”</text>
</g>
</g>

</g>
</svg>
